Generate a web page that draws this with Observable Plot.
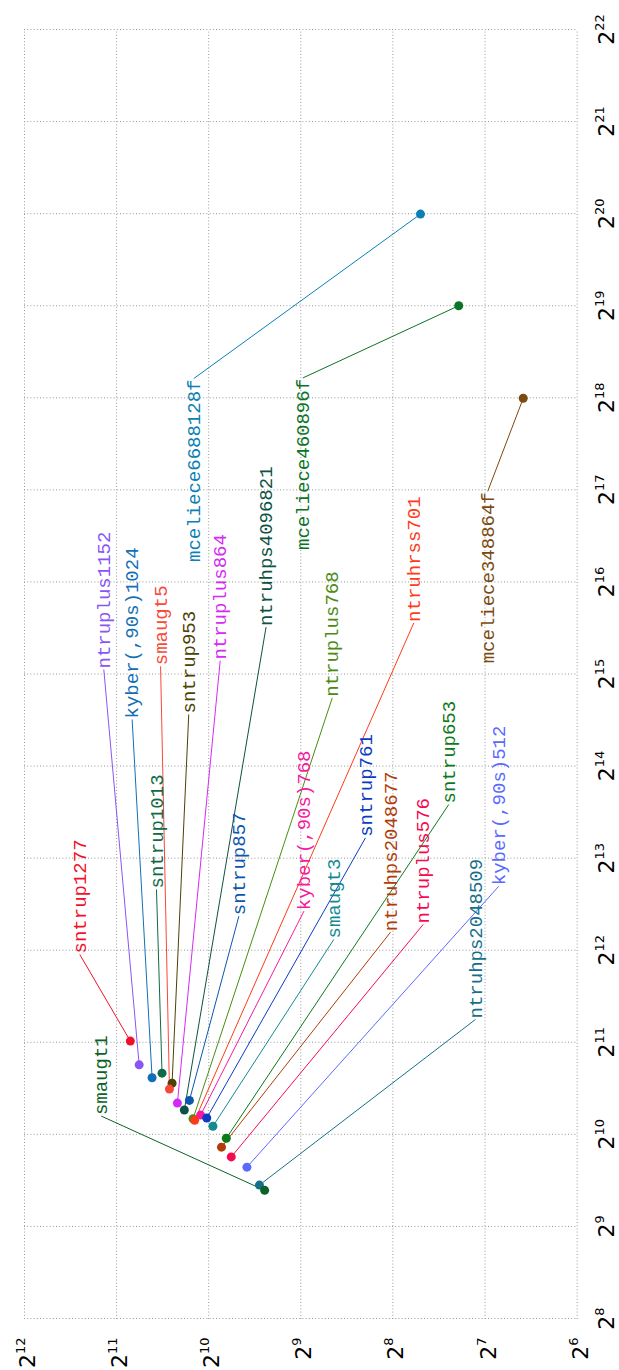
<!DOCTYPE html>
<html>
<head>
<meta charset="utf-8">
<script src="https://cdn.jsdelivr.net/npm/d3@7"></script>
<script src="https://cdn.jsdelivr.net/npm/@observablehq/plot@0.6"></script>
<style>
  html, body { margin: 0; padding: 0; background: #fff; overflow: hidden; }
  #chart { position: relative; width: 619px; height: 1370px; overflow: hidden; }
  #chart svg {
    position: absolute; left: 0; top: 0;
    max-width: none !important; height: 619px !important;
    transform-origin: 0 0;
    transform: translate(0, 1370px) rotate(-90deg);
  }
</style>
</head>
<body>
<div id="chart"></div>
<script>
// KEM sizes in bytes: public key (x) against ciphertext (y), both on log2 scales.
const names = [
  "ntruplus576", "ntruplus768", "ntruplus864", "ntruplus1152",
  "kyber(,90s)512", "kyber(,90s)768", "kyber(,90s)1024",
  "ntruhps2048509", "ntruhps2048677", "ntruhps4096821", "ntruhrss701",
  "sntrup653", "sntrup761", "sntrup857", "sntrup953", "sntrup1013", "sntrup1277",
  "smaugt1", "smaugt3", "smaugt5",
  "mceliece348864f", "mceliece460896f", "mceliece6688128f"
];
const pkBytes = [
  864, 1152, 1296, 1728,
  800, 1184, 1568,
  699, 930, 1230, 1138,
  994, 1158, 1322, 1505, 1623, 2067,
  672, 1088, 1440,
  261120, 524160, 1044992
];
const ctBytes = [
  864, 1152, 1296, 1728,
  768, 1088, 1568,
  699, 930, 1230, 1138,
  897, 1039, 1184, 1349, 1455, 1847,
  672, 992, 1376,
  96, 156, 208
];
// where each name label sits (same units as the data), and which end of the text meets the leader line
const labelPk = [
  4972, 27390, 36250, 33900,
  6631, 5496, 23270,
  2432, 4692, 46660, 48150,
  12270, 9546, 5293, 24160, 6472, 3967,
  1175, 4441, 34730,
  129700, 304400, 303000
];
const labelCt = [
  203.8, 404, 939, 2255,
  115.4, 500, 1822,
  137.5, 260.6, 665, 218.7,
  168.1, 314.7, 816, 1190, 1517, 2702,
  2299, 399.5, 1471,
  125.4, 504, 1146
];
const labelSide = [
  "start", "start", "start", "start",
  "start", "start", "start",
  "start", "start", "start", "start",
  "start", "start", "start", "start", "start", "start",
  "start", "start", "start",
  "end", "end", "end"
];
const colors = [
  "#f50a50", "#4a8c12", "#d52af5", "#8a55f5",
  "#5a6aff", "#f51a9e", "#136fb5",
  "#14708a", "#b03c08", "#0d5242", "#ff3a18",
  "#0d7a18", "#0a3cc4", "#0c56ae", "#4b4205", "#0f6a46", "#f0102a",
  "#0b6226", "#148a90", "#fa4838",
  "#7a4a10", "#0a7426", "#0a80b5"
];
const xExponents = d3.range(8, 23);
const yExponents = d3.range(6, 13);

const xTicks = xExponents.map(e => 2 ** e);
const yTicks = yExponents.map(e => 2 ** e);

const rows = names.map((name, i) => ({
  name,
  pk: pkBytes[i],
  ct: ctBytes[i],
  lpk: labelPk[i],
  lct: labelCt[i],
  side: labelSide[i],
  color: colors[i]
}));

const gridStyle = {stroke: "#9a9a9a", strokeOpacity: 1, strokeWidth: 1, strokeDasharray: "1,2.2"};
const labelFont = {fontFamily: "'Liberation Mono', 'DejaVu Sans Mono', monospace", fontSize: 19};
const tickFont = {fontFamily: "'DejaVu Sans', sans-serif", fontSize: 22, fill: "#000"};

const chart = Plot.plot({
  width: 1370,
  height: 619,
  marginLeft: 51,
  marginRight: 30,
  marginTop: 24,
  marginBottom: 42.4,
  style: {background: "white", overflow: "visible"},
  x: {type: "log", base: 2, domain: [2 ** 8, 2 ** 22], axis: null},
  y: {type: "log", base: 2, domain: [2 ** 6, 2 ** 12], axis: null},
  color: {type: "identity"},
  marks: [
    Plot.gridX(xTicks, gridStyle),
    Plot.gridY(yTicks, gridStyle),
    // tick labels as powers of two; "|" separates base and exponent
    Plot.text(xTicks, {
      x: d => d,
      text: d => "2|" + Math.round(Math.log2(d)),
      frameAnchor: "bottom",
      lineAnchor: "bottom",
      textAnchor: "middle",
      dy: 36.9,
      ...tickFont
    }),
    Plot.text(yTicks, {
      y: d => d,
      text: d => "2|" + Math.round(Math.log2(d)),
      frameAnchor: "left",
      lineAnchor: "bottom",
      textAnchor: "end",
      dx: -19,
      dy: 10.5,
      ...tickFont
    }),
    Plot.link(rows, {x1: "pk", y1: "ct", x2: "lpk", y2: "lct", stroke: "color", strokeWidth: 1}),
    Plot.dot(rows, {x: "pk", y: "ct", fill: "color", r: 4.5, stroke: "none"}),
    Plot.text(rows, {
      filter: d => d.side === "start",
      x: "lpk", y: "lct", text: "name", fill: "color",
      textAnchor: "start", lineAnchor: "middle", dx: 1,
      ...labelFont
    }),
    Plot.text(rows, {
      filter: d => d.side === "end",
      x: "lpk", y: "lct", text: "name", fill: "color",
      textAnchor: "end", lineAnchor: "middle", dx: -1,
      ...labelFont
    })
  ]
});

// turn "2|n" tick texts into a base with a raised exponent
const ns = "http://www.w3.org/2000/svg";
for (const t of chart.querySelectorAll("text")) {
  const s = t.textContent;
  if (!s.includes("|")) continue;
  const [base, exp] = s.split("|");
  t.textContent = "";
  const b = document.createElementNS(ns, "tspan");
  b.textContent = base;
  const e = document.createElementNS(ns, "tspan");
  e.textContent = exp;
  e.setAttribute("font-size", "13");
  e.setAttribute("dy", "-10");
  t.append(b, e);
}

document.getElementById("chart").append(chart);
</script>
</body>
</html>
